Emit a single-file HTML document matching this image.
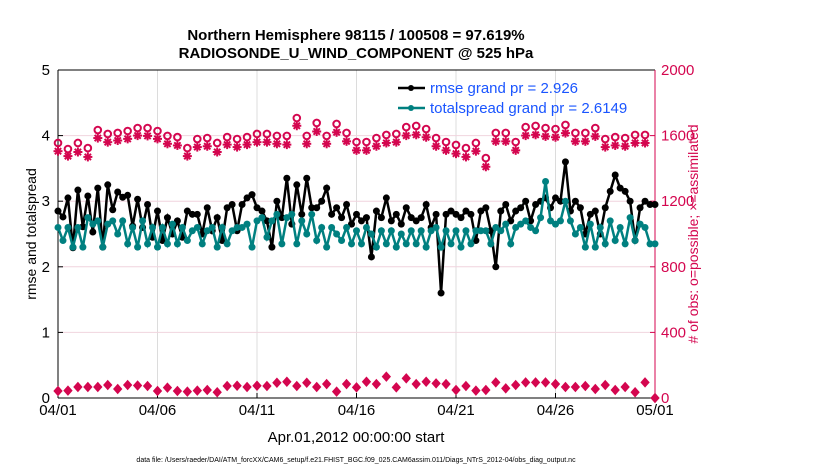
<!DOCTYPE html>
<html><head><meta charset="utf-8"><style>
body{margin:0;background:#fff;}
svg{display:block;font-family:"Liberation Sans",sans-serif;}
</style></head><body>
<svg id="chart" width="830" height="470" viewBox="0 0 830 470">
<text x="356" y="40" text-anchor="middle" font-size="15" font-weight="bold">Northern Hemisphere 98115 / 100508 = 97.619%</text>
<text x="356" y="58" text-anchor="middle" font-size="15" font-weight="bold">RADIOSONDE_U_WIND_COMPONENT @ 525 hPa</text>
<g id="grid"></g><g id="axes"></g><g id="series"></g>
<text x="356" y="442" text-anchor="middle" font-size="15">Apr.01,2012 00:00:00 start</text>
<text x="36" y="234" text-anchor="middle" font-size="14" transform="rotate(-90 36 234)">rmse and totalspread</text>
<text x="698" y="234" text-anchor="middle" font-size="14" fill="#d4064f" transform="rotate(-90 698 234)"># of obs: o=possible; ×=assimilated</text>
<text x="356" y="462" text-anchor="middle" font-size="7">data file: /Users/raeder/DAI/ATM_forcXX/CAM6_setup/f.e21.FHIST_BGC.f09_025.CAM6assim.011/Diags_NTrS_2012-04/obs_diag_output.nc</text>
<g>
<line x1="398" y1="88" x2="425" y2="88" stroke="#000" stroke-width="2.5"/><circle cx="411" cy="88" r="3" fill="#000"/>
<text x="430" y="93" font-size="15" fill="#1a55ff">rmse grand pr = 2.926</text>
<line x1="398" y1="108" x2="425" y2="108" stroke="#008080" stroke-width="2.5"/><circle cx="411" cy="108" r="3" fill="#008080"/>
<text x="430" y="113" font-size="15" fill="#1a55ff">totalspread grand pr = 2.6149</text>
</g>
</svg>
<script>
const xTickLabels=["04/01","04/06","04/11","04/16","04/21","04/26","05/01"];
const xTickDays=[0,5,10,15,20,25,30];
const leftTicks=[0,1,2,3,4,5];
const rightTicks=[0,400,800,1200,1600,2000];
const rmse=[2.85,2.76,3.05,2.29,3.17,2.61,3.08,2.53,3.2,2.3,3.25,2.87,3.14,3.06,3.09,2.62,3.03,2.6,2.95,2.45,2.85,2.4,2.75,2.5,2.7,2.45,2.85,2.8,2.8,2.5,2.9,2.55,2.75,2.4,2.9,2.95,2.55,2.95,3.05,3.1,2.9,2.85,2.7,2.3,3.0,2.75,3.35,2.65,3.25,2.8,3.35,2.9,2.9,3.0,3.2,2.8,2.9,2.75,2.95,2.65,2.8,2.7,2.75,2.15,2.85,2.75,3.05,2.7,2.8,2.65,2.9,2.75,2.7,2.75,2.95,2.6,2.8,1.6,2.8,2.85,2.8,2.75,2.85,2.8,2.4,2.85,2.9,2.55,2.0,2.85,2.95,2.7,2.85,2.9,3.0,2.7,2.95,3.0,3.05,2.9,3.05,3.0,3.6,2.85,3.0,2.9,2.5,2.8,2.85,2.5,2.9,3.15,3.4,3.2,3.15,3.0,2.4,2.9,3.0,2.95,2.95];
const spread=[2.6,2.4,2.6,2.3,2.6,2.3,2.75,2.65,2.7,2.3,2.65,2.7,2.5,2.7,2.35,2.6,2.3,2.7,2.35,2.6,2.3,2.6,2.35,2.65,2.35,2.6,2.4,2.55,2.6,2.35,2.55,2.6,2.3,2.6,2.35,2.55,2.6,2.6,2.65,2.3,2.7,2.75,2.45,2.7,2.8,2.35,2.75,2.8,2.35,2.7,2.5,2.8,2.4,2.6,2.3,2.6,2.5,2.4,2.6,2.35,2.55,2.35,2.6,2.5,2.3,2.55,2.35,2.55,2.3,2.5,2.35,2.55,2.35,2.55,2.3,2.55,2.6,2.3,2.55,2.35,2.55,2.3,2.55,2.35,2.55,2.55,2.55,2.35,2.6,2.55,2.65,2.35,2.6,2.65,2.7,2.6,2.55,2.75,3.3,2.7,2.65,2.7,3.0,2.7,2.5,2.6,2.3,2.65,2.3,2.6,2.35,2.7,2.4,2.6,2.35,2.75,2.4,2.65,2.6,2.35,2.35];
const possible=[1555,1518,1555,1524,1634,1610,1616,1628,1646,1646,1628,1598,1591,1524,1579,1585,1555,1591,1579,1591,1610,1610,1598,1598,1707,1598,1677,1598,1671,1616,1561,1561,1585,1604,1610,1652,1659,1640,1585,1561,1543,1524,1555,1463,1616,1616,1561,1652,1659,1646,1640,1665,1616,1616,1646,1579,1591,1585,1604,1604];
const assimilated=[1505,1475,1500,1470,1585,1560,1570,1580,1600,1598,1580,1550,1540,1475,1530,1535,1500,1545,1530,1545,1560,1560,1550,1545,1660,1550,1625,1550,1620,1565,1510,1510,1535,1555,1560,1600,1605,1590,1535,1510,1490,1470,1505,1410,1565,1565,1510,1600,1605,1595,1590,1615,1565,1565,1595,1530,1540,1535,1555,1555];
const bottomPossible=[43,45,67,67,67,79,55,79,76,73,43,63,43,39,45,49,35,73,75,67,75,73,93,99,73,93,67,85,39,85,65,99,85,130,65,120,85,99,89,85,49,73,45,49,95,59,79,95,95,95,85,67,67,73,55,79,49,67,35,95,0];
const X0=58,X1=655,Y0=398,Y1=70;
const xs=d=>X0+(X1-X0)*d/30;
const yl=v=>Y0-(Y0-Y1)*v/5;
const yr=v=>Y0-(Y0-Y1)*v/2000;
const NS="http://www.w3.org/2000/svg";
function mk(tag,attrs,parent){const e=document.createElementNS(NS,tag);for(const k in attrs)e.setAttribute(k,attrs[k]);parent.appendChild(e);return e;}
const grid=document.getElementById('grid'),axes=document.getElementById('axes'),ser=document.getElementById('series');
const PINK="#d4064f",TEAL="#008080";
mk('rect',{x:X0,y:Y1,width:X1-X0,height:Y0-Y1,fill:'#fff'},grid);
xTickDays.forEach((d,i)=>{
  if(i>0&&i<xTickDays.length-1){const g=mk('line',{x1:xs(d),x2:xs(d),y1:Y1,y2:Y0,stroke:'#dcdcdc','stroke-width':1},grid);
  
  }
  mk('line',{x1:xs(d),x2:xs(d),y1:Y0,y2:Y0-5,stroke:'#000'},axes);
  const t=mk('text',{x:xs(d),y:Y0+17,'text-anchor':'middle','font-size':15},axes);t.textContent=xTickLabels[i];
  
  
});
rightTicks.forEach(v=>{
  if(v>0&&v<2000){const g=mk('line',{x1:X0,x2:X1,y1:yr(v),y2:yr(v),stroke:'#f0d4de','stroke-width':1},grid);
  
  }
  mk('line',{x1:X1,x2:X1-5,y1:yr(v),y2:yr(v),stroke:PINK},axes);
  const t=mk('text',{x:X1+6,y:yr(v)+5,'font-size':15,fill:PINK},axes);t.textContent=v;
  
  
});
leftTicks.forEach(v=>{
  mk('line',{x1:X0,x2:X0+5,y1:yl(v),y2:yl(v),stroke:'#000'},axes);
  const t=mk('text',{x:X0-8,y:yl(v)+5,'text-anchor':'end','font-size':15},axes);t.textContent=v;
  
  
});
mk('line',{x1:X0,x2:X0,y1:Y1,y2:Y0,stroke:'#000'},axes);
mk('line',{x1:X0,x2:X1,y1:Y0,y2:Y0,stroke:'#000'},axes);
mk('line',{x1:X0,x2:X1,y1:Y1,y2:Y1,stroke:'#000'},axes);
mk('line',{x1:X1,x2:X1,y1:Y1,y2:Y0,stroke:PINK},axes);
function star(x,y,r,parent,name){
  const g=mk('g',{stroke:PINK,'stroke-width':2},parent);
  
  
  mk('line',{x1:x-r,x2:x+r,y1:y,y2:y},g);mk('line',{x1:x,x2:x,y1:y-r,y2:y+r},g);
  mk('line',{x1:x-r*.7,x2:x+r*.7,y1:y-r*.7,y2:y+r*.7},g);mk('line',{x1:x-r*.7,x2:x+r*.7,y1:y+r*.7,y2:y-r*.7},g);
}
assimilated.forEach((v,i)=>star(xs(i*0.5),yr(v),4.5,ser,'assimilated-marker'));
possible.forEach((v,i)=>{const c=mk('circle',{cx:xs(i*0.5),cy:yr(v),r:3.3,fill:'none',stroke:PINK,'stroke-width':2},ser);

});
bottomPossible.forEach((v,i)=>{const x=xs(i*0.5),y=yr(v);
const d=mk('path',{d:`M${x} ${y-4.5}L${x+4} ${y}L${x} ${y+4.5}L${x-4} ${y}Z`,fill:PINK,stroke:PINK,'stroke-width':1},ser);

});
function line(arr,color,name){
  const pts=arr.map((v,i)=>xs(i*0.25)+','+yl(v)).join(' ');
  const p=mk('polyline',{points:pts,fill:'none',stroke:color,'stroke-width':2.5},ser);
  
  
  arr.forEach((v,i)=>{const c=mk('circle',{cx:xs(i*0.25),cy:yl(v),r:3.5,fill:color},ser);
  
  });
}
line(rmse,'#000','rmse');
line(spread,TEAL,'totalspread');
</script>
</body></html>
